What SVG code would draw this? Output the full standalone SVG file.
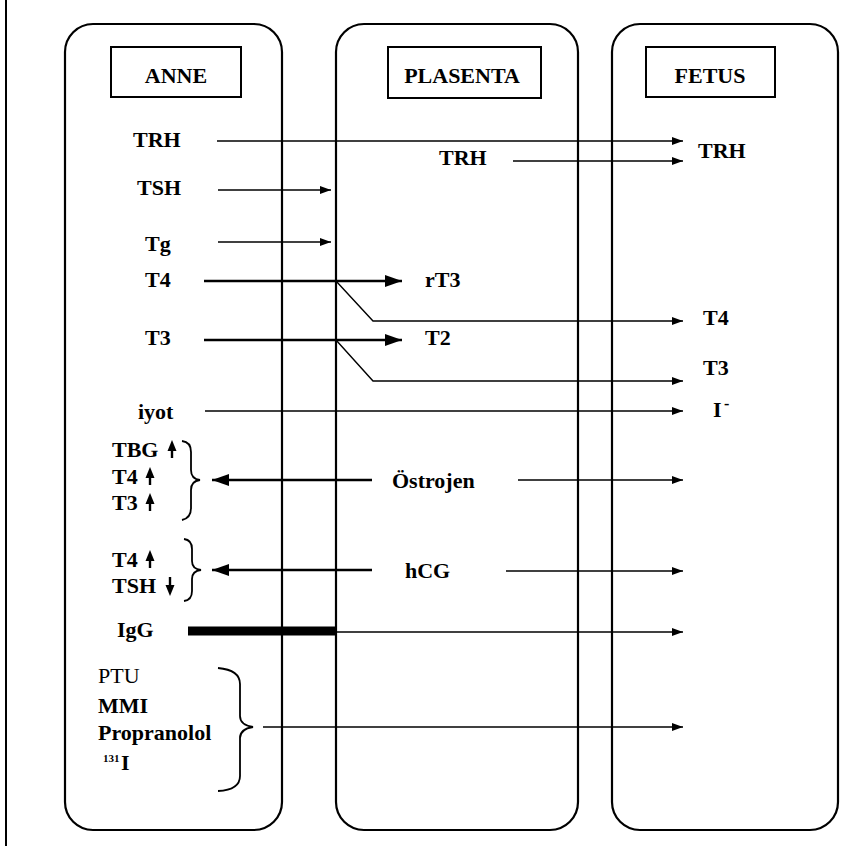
<svg xmlns="http://www.w3.org/2000/svg" width="844" height="846" viewBox="0 0 844 846">
<style>
.panel{fill:none;stroke:#000;stroke-width:2.2}
.hbox{fill:none;stroke:#000;stroke-width:2}
text{font-family:"Liberation Serif","Times New Roman",serif;font-weight:bold;font-size:22px;fill:#000}
.hd{text-anchor:middle}
.reg{font-weight:normal}
.sup{font-size:11px}
.minus{font-size:16px}
.thin{fill:none;stroke:#000;stroke-width:1.4}
.thick{fill:none;stroke:#000;stroke-width:2.3}
.br{fill:none;stroke:#000;stroke-width:1.8}
.stem{fill:none;stroke:#000;stroke-width:2.4}
.tip{fill:#000}
</style>
<defs>
<marker id="ah" markerUnits="userSpaceOnUse" markerWidth="11" markerHeight="8" refX="11" refY="4" orient="auto"><path d="M0,0 L11,4 L0,8 z" fill="#000"/></marker>
<marker id="ahb" markerUnits="userSpaceOnUse" markerWidth="17" markerHeight="12" refX="17" refY="6" orient="auto"><path d="M0,0 L17,6 L0,12 z" fill="#000"/></marker>
</defs>
<rect width="844" height="846" fill="#fff"/>
<line x1="6" y1="0" x2="6" y2="846" stroke="#000" stroke-width="2"/>

<g id="anne">
<rect class="panel" x="65" y="24" width="217" height="806" rx="28"/>
<rect class="hbox" x="111" y="47" width="130" height="50"/>
<text class="hd" x="176" y="83">ANNE</text>
<text x="133" y="147">TRH</text>
<text x="137" y="195">TSH</text>
<text x="145" y="251">Tg</text>
<text x="145" y="287">T4</text>
<text x="145" y="345">T3</text>
<text x="138" y="419">iyot</text>
</g>

<g id="estrogen-effects">
<text x="112" y="457">TBG</text>
<text x="112" y="484">T4</text>
<text x="112" y="510">T3</text>
<path class="stem" d="M172,458 V448"/><path class="tip" d="M172,440 L167.5,451 L176.5,451 z"/>
<path class="stem" d="M150,485 V475"/><path class="tip" d="M150,467 L145.5,478 L154.5,478 z"/>
<path class="stem" d="M150,511 V501"/><path class="tip" d="M150,493 L145.5,504 L154.5,504 z"/>
<path class="br" d="M182,441 Q191,442 191,452 V470 Q191,479 200,480 Q191,481 191,490 V508 Q191,518 182,520"/>
</g>

<g id="hcg-effects">
<text x="112" y="567">T4</text>
<text x="112" y="593">TSH</text>
<path class="stem" d="M150,568 V558"/><path class="tip" d="M150,550 L145.5,561 L154.5,561 z"/>
<path class="stem" d="M170,577 V587"/><path class="tip" d="M170,596 L165.5,585 L174.5,585 z"/>
<path class="br" d="M184,539 Q192,540 192,549 V561 Q192,569 201,570 Q192,571 192,579 V591 Q192,600 184,601"/>
</g>

<g id="igg">
<text x="117" y="637">IgG</text>
</g>

<g id="drugs">
<text class="reg" x="98" y="683">PTU</text>
<text x="98" y="713">MMI</text>
<text x="98" y="740">Propranolol</text>
<text class="sup" x="103" y="762">131</text>
<text x="121" y="770">I</text>
<path class="br" d="M218,668 Q240,670 240,684 V716 Q240,725 253,727 Q240,729 240,738 V776 Q240,790 218,791"/>
</g>

<g id="plasenta">
<rect class="panel" x="336" y="24" width="242" height="806" rx="28"/>
<rect class="hbox" x="388" y="47" width="153" height="51"/>
<text class="hd" x="462" y="83">PLASENTA</text>
<text x="439" y="165">TRH</text>
<text x="425" y="287">rT3</text>
<text x="425" y="345">T2</text>
<text x="392" y="488">Östrojen</text>
<text x="405" y="578">hCG</text>
</g>

<g id="fetus">
<rect class="panel" x="612" y="24" width="226" height="806" rx="28"/>
<rect class="hbox" x="646" y="47" width="129" height="50"/>
<text class="hd" x="710" y="83">FETUS</text>
<text x="698" y="158">TRH</text>
<text x="703" y="325">T4</text>
<text x="703" y="375">T3</text>
<text x="713" y="417">I</text>
<text class="minus" x="724" y="409">-</text>
</g>

<g id="connectors">
<line class="thin" x1="217" y1="141" x2="683" y2="141" marker-end="url(#ah)"/>
<line class="thin" x1="513" y1="161" x2="683" y2="161" marker-end="url(#ah)"/>
<line class="thin" x1="218" y1="190" x2="331" y2="190" marker-end="url(#ah)"/>
<line class="thin" x1="218" y1="242" x2="331" y2="242" marker-end="url(#ah)"/>
<line class="thick" x1="204" y1="281" x2="402" y2="281" marker-end="url(#ahb)"/>
<polyline class="thin" points="336,281 373,321 683,321" marker-end="url(#ah)"/>
<line class="thick" x1="204" y1="340" x2="402" y2="340" marker-end="url(#ahb)"/>
<polyline class="thin" points="336,340 373,381 683,381" marker-end="url(#ah)"/>
<line class="thin" x1="205" y1="411" x2="683" y2="411" marker-end="url(#ah)"/>
<line class="thick" x1="372" y1="480" x2="212" y2="480" marker-end="url(#ahb)"/>
<line class="thin" x1="518" y1="480" x2="683" y2="480" marker-end="url(#ah)"/>
<line class="thick" x1="372" y1="570" x2="212" y2="570" marker-end="url(#ahb)"/>
<line class="thin" x1="506" y1="571" x2="683" y2="571" marker-end="url(#ah)"/>
<line x1="188" y1="631" x2="337" y2="631" stroke="#000" stroke-width="9"/>
<line class="thin" x1="337" y1="632" x2="683" y2="632" marker-end="url(#ah)"/>
<line class="thin" x1="263" y1="727" x2="683" y2="727" marker-end="url(#ah)"/>
</g>
</svg>
